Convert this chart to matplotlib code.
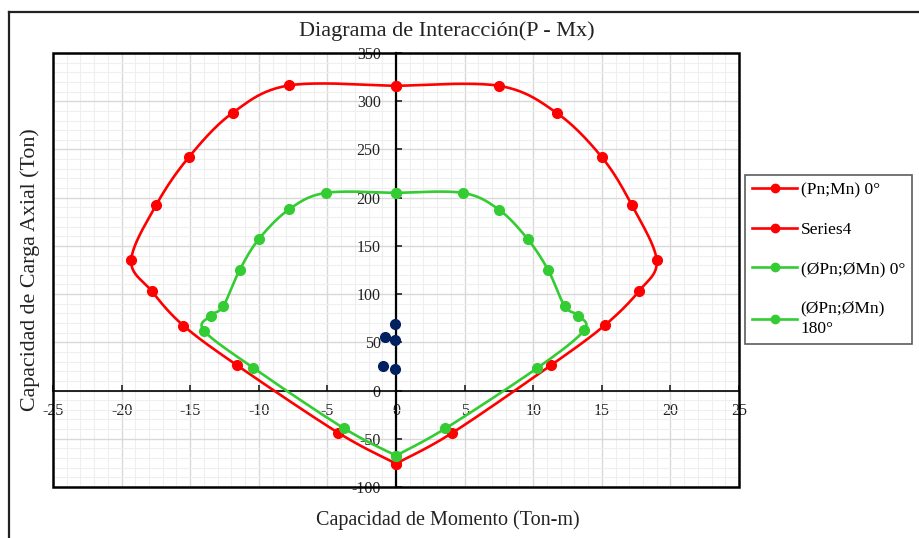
import numpy as np
import matplotlib.pyplot as plt
from matplotlib.lines import Line2D
from matplotlib.patches import Rectangle
from matplotlib.ticker import MultipleLocator

plt.rcParams['font.family'] = ['Liberation Serif', 'DejaVu Serif']
plt.rcParams['axes.unicode_minus'] = False

# (Pn;Mn) 0°
m_pn0 = [0, 7.5, 11.7, 15.0, 17.2, 19.0, 17.7, 15.2, 11.3, 4.1, 0]
p_pn0 = [316, 316, 288, 242, 192, 135, 103, 67.5, 26.3, -43.9, -75.7]
# Series4
m_s4 = [0, -7.8, -11.9, -15.1, -17.5, -19.3, -17.8, -15.5, -11.6, -4.2, 0]
p_s4 = [316, 316.4, 288, 242, 192, 135, 103, 67.4, 26.3, -43.9, -75.7]
# (ØPn;ØMn) 0°
m_phi0 = [0, 4.85, 7.5, 9.6, 11.1, 12.3, 13.3, 13.7, 10.3, 3.6, 0]
p_phi0 = [205, 205, 187.6, 157, 124.7, 87.4, 77.7, 62.3, 23.4, -39.3, -67.4]
# (ØPn;ØMn) 180°
m_phi180 = [0, -5.1, -7.8, -10.0, -11.4, -12.6, -13.5, -14.0, -10.4, -3.8, 0]
p_phi180 = [205, 205, 187.8, 157, 124.8, 87.4, 77.8, 62.2, 23.5, -39.1, -67.4]
# cargas actuantes
mu = [-0.1, -0.8, -0.05, -0.95, -0.05]
pu = [68.5, 55.5, 52.3, 25.3, 22.6]

RED = '#FF0000'
GREEN = '#33CC33'
NAVY = '#002060'


def smooth(x, y, n=24):
    # curva suavizada tipo Excel (Bezier / Catmull-Rom)
    pts = np.column_stack([x, y]).astype(float)
    ext = np.vstack([pts[0], pts, pts[-1]])
    t = np.linspace(0, 1, n, endpoint=False)[:, None]
    out = []
    for i in range(1, len(ext) - 2):
        p0, p1, p2, p3 = ext[i - 1], ext[i], ext[i + 1], ext[i + 2]
        c1 = p1 + (p2 - p0) / 6
        c2 = p2 - (p3 - p1) / 6
        out.append((1 - t)**3 * p1 + 3 * (1 - t)**2 * t * c1
                   + 3 * (1 - t) * t**2 * c2 + t**3 * p2)
    out.append(pts[-1:])
    s = np.vstack(out)
    return s[:, 0], s[:, 1]


fig = plt.figure(figsize=(9.2, 5.38), dpi=100)
ax = fig.add_axes([53 / 920, 1 - 487 / 538, 686 / 920, 434 / 538])

series = [(m_pn0, p_pn0, RED), (m_s4, p_s4, RED),
          (m_phi0, p_phi0, GREEN), (m_phi180, p_phi180, GREEN)]
for m, p, c in series:
    sx, sy = smooth(m, p)
    z = 3 if c == RED else 4
    ax.plot(sx, sy, color=c, lw=1.9, zorder=z)
    ax.plot(m, p, 'o', color=c, ms=7, zorder=z)
ax.plot(mu, pu, 'o', color=NAVY, ms=7, zorder=5)

ax.set_xlim(-25, 25)
ax.set_ylim(-100, 350)
ax.xaxis.set_major_locator(MultipleLocator(5))
ax.xaxis.set_minor_locator(MultipleLocator(1))
ax.yaxis.set_major_locator(MultipleLocator(50))
ax.yaxis.set_minor_locator(MultipleLocator(10))
ax.grid(which='major', color='#D9D9D9', lw=1.0)
ax.grid(which='minor', color='#EFEFEF', lw=0.8)
ax.set_axisbelow(True)

ax.spines['left'].set_position(('data', 0))
ax.spines['bottom'].set_position(('data', 0))
ax.spines['top'].set_visible(False)
ax.spines['right'].set_visible(False)
ax.spines['left'].set_linewidth(1.6)
ax.spines['bottom'].set_linewidth(1.2)
ax.tick_params(which='major', direction='in', length=4, width=1.2, labelsize=11.5, colors='#222222')
ax.tick_params(axis='x', pad=9)
ax.tick_params(axis='y', pad=11)
ax.tick_params(which='minor', length=0)

ax.add_patch(Rectangle((0, 0), 1, 1, transform=ax.transAxes, fill=False,
                       ec='black', lw=1.8, clip_on=False, zorder=10))

fig.text(447 / 920, 1 - 31 / 538, 'Diagrama de Interacción(P - Mx)',
         ha='center', va='center', fontsize=16, color='#222222')
fig.text(448 / 920, 1 - 520 / 538, 'Capacidad de Momento (Ton-m)',
         ha='center', va='center', fontsize=14.5, color='#222222')
fig.text(30 / 920, 1 - 270 / 538, 'Capacidad de Carga Axial (Ton)',
         ha='center', va='center', rotation=90, fontsize=15.8, color='#222222')

handles = [Line2D([], [], color=RED, lw=1.9, marker='o', ms=6),
           Line2D([], [], color=RED, lw=1.9, marker='o', ms=6),
           Line2D([], [], color=GREEN, lw=1.9, marker='o', ms=6),
           Line2D([], [], color=GREEN, lw=1.9, marker='o', ms=6)]
labels = ['(Pn;Mn) 0°', 'Series4', '(ØPn;ØMn) 0°', '(ØPn;ØMn)\n180°']
leg = fig.legend(handles, labels, loc='upper left',
                 bbox_to_anchor=(745 / 920, 1 - 175 / 538), borderaxespad=0,
                 frameon=True, fancybox=False, edgecolor='#333333',
                 fontsize=12.5, handlelength=2.6, handletextpad=0.2,
                 labelspacing=1.35, borderpad=0.4)
leg.get_frame().set_linewidth(1.2)
for txt in leg.get_texts():
    txt.set_linespacing(1.35)

# borde del área del gráfico
fig.add_artist(Line2D([9.5 / 920, 9.5 / 920], [0, 1 - 11.5 / 538], color='#222222', lw=1.6))
fig.add_artist(Line2D([9.5 / 920, 1], [1 - 11.5 / 538, 1 - 11.5 / 538], color='#222222', lw=1.6))

fig.savefig('out.png', dpi=100)
